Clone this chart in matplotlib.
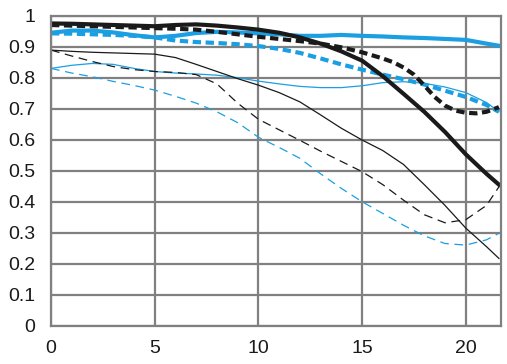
import matplotlib
matplotlib.use("Agg")
import matplotlib.pyplot as plt

x = [0, 1, 2, 3, 4, 5, 6, 7, 8, 9, 10, 11, 12, 13, 14, 15, 16, 17, 18, 19, 20, 21, 21.6]

black_thick_solid = [0.975, 0.974, 0.972, 0.970, 0.968, 0.966, 0.970, 0.972, 0.968, 0.962, 0.955,
                     0.945, 0.930, 0.910, 0.885, 0.855, 0.805, 0.748, 0.690, 0.625, 0.553, 0.490, 0.455]
x_black_thick_dash = [0, 1, 2, 3, 4, 5, 6, 7, 8, 9, 10, 11, 12, 13, 14, 15, 16, 16.5, 17, 17.5,
                      18, 18.5, 19, 19.5, 20, 20.5, 21, 21.6]
black_thick_dash = [0.970, 0.968, 0.966, 0.964, 0.962, 0.960, 0.958, 0.955, 0.948, 0.940, 0.932,
                    0.925, 0.918, 0.910, 0.898, 0.882, 0.862, 0.850, 0.833, 0.810, 0.775, 0.738,
                    0.710, 0.694, 0.687, 0.685, 0.690, 0.705]
blue_thick_solid = [0.945, 0.952, 0.952, 0.946, 0.937, 0.930, 0.935, 0.944, 0.948, 0.946, 0.943,
                    0.940, 0.935, 0.935, 0.938, 0.935, 0.933, 0.930, 0.928, 0.925, 0.922, 0.910, 0.903]
blue_thick_dash = [0.943, 0.942, 0.940, 0.938, 0.935, 0.930, 0.920, 0.915, 0.912, 0.908, 0.902,
                   0.893, 0.880, 0.862, 0.843, 0.826, 0.810, 0.795, 0.778, 0.758, 0.738, 0.712, 0.690]
black_thin_solid = [0.889, 0.885, 0.882, 0.880, 0.878, 0.876, 0.865, 0.843, 0.820, 0.797, 0.776,
                    0.752, 0.722, 0.680, 0.637, 0.599, 0.565, 0.520, 0.455, 0.388, 0.315, 0.255, 0.217]
black_thin_dash = [0.889, 0.870, 0.852, 0.836, 0.826, 0.820, 0.817, 0.810, 0.780, 0.718, 0.666,
                   0.632, 0.598, 0.563, 0.530, 0.497, 0.455, 0.405, 0.358, 0.332, 0.342, 0.388, 0.448]
blue_thin_solid = [0.830, 0.840, 0.846, 0.843, 0.830, 0.820, 0.815, 0.812, 0.808, 0.800, 0.789,
                   0.780, 0.772, 0.768, 0.768, 0.774, 0.784, 0.787, 0.782, 0.770, 0.752, 0.720, 0.690]
blue_thin_dash = [0.830, 0.815, 0.803, 0.788, 0.775, 0.760, 0.740, 0.718, 0.690, 0.655, 0.608,
                  0.575, 0.540, 0.490, 0.443, 0.400, 0.362, 0.324, 0.290, 0.265, 0.260, 0.277, 0.298]

xticks = [0, 5, 10, 15, 20]
yticks = [0, 0.1, 0.2, 0.3, 0.4, 0.5, 0.6, 0.7, 0.8, 0.9, 1]
ytick_labels = ["0", "0.1", "0.2", "0.3", "0.4", "0.5", "0.6", "0.7", "0.8", "0.9", "1"]

BLUE = "#1b9fe2"
BLACK = "#1a1a1a"
GRID = "#808080"

plt.rcParams['font.family'] = ['Liberation Sans', 'DejaVu Sans']

fig = plt.figure(figsize=(5.07, 3.64), dpi=100)
ax = fig.add_axes([51/507, 38.3/364, 450/507, 310/364])

ax.plot(x, blue_thin_dash, color=BLUE, lw=0.9, dashes=(7, 4.5))
ax.plot(x, blue_thin_solid, color=BLUE, lw=0.9)
ax.plot(x, black_thin_dash, color=BLACK, lw=0.9, dashes=(7, 4.5))
ax.plot(x, black_thin_solid, color=BLACK, lw=0.9)
ax.plot(x, blue_thick_dash, color=BLUE, lw=3.0, dashes=(2, 1.1))
ax.plot(x, blue_thick_solid, color=BLUE, lw=3.0)
ax.plot(x_black_thick_dash, black_thick_dash, color=BLACK, lw=3.0, dashes=(2, 1.1))
ax.plot(x, black_thick_solid, color=BLACK, lw=3.0)

ax.set_xlim(0, 21.7)
ax.set_ylim(0, 1)
ax.set_xticks(xticks)
ax.set_yticks(yticks)
ax.set_yticklabels(ytick_labels)
ax.grid(True, color=GRID, lw=1.6)
ax.set_axisbelow(True)
for s in ax.spines.values():
    s.set_color(GRID)
    s.set_linewidth(1.6)
ax.tick_params(length=0, labelsize=14, colors="#1a1a1a")
ax.tick_params(axis='y', pad=11.5)
ax.tick_params(axis='x', pad=10)

fig.savefig("out.png", dpi=100)
